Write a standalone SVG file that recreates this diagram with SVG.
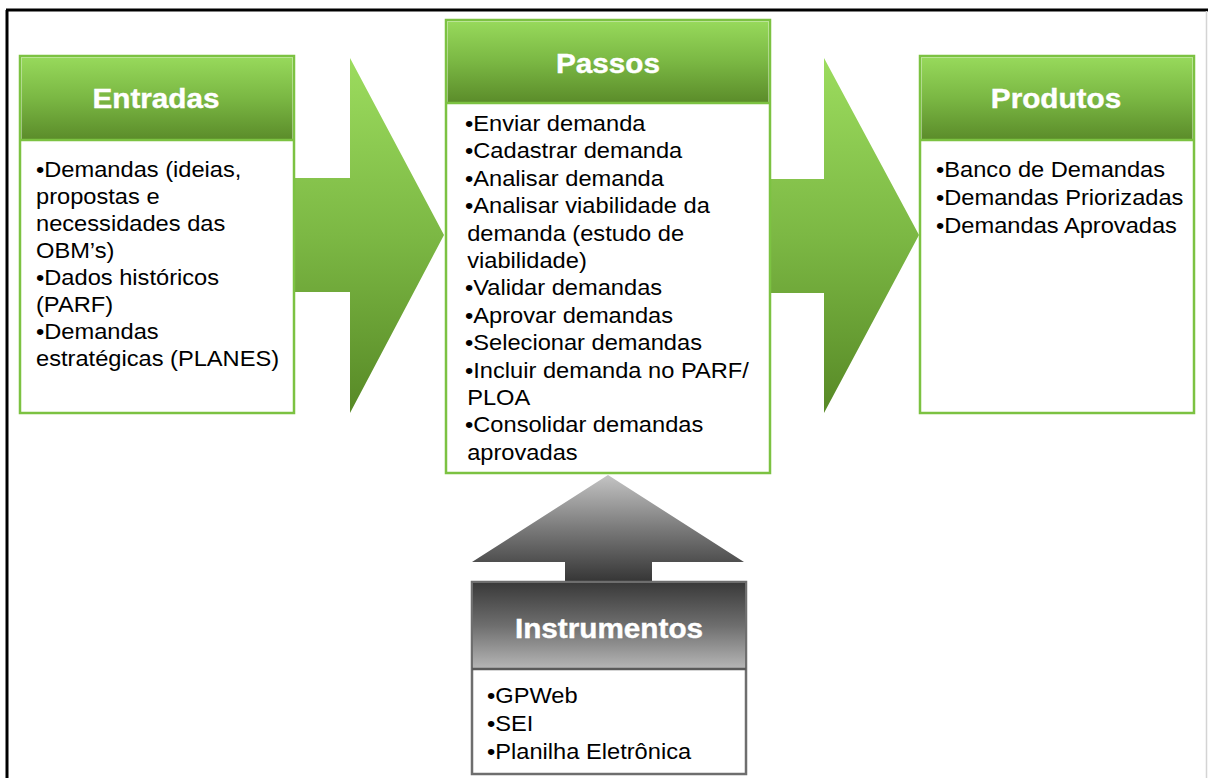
<svg xmlns="http://www.w3.org/2000/svg" width="1208" height="778" viewBox="0 0 1208 778">
<defs>
<linearGradient id="gHead" x1="0" y1="0" x2="0" y2="1">
<stop offset="0" stop-color="#97d95b"/>
<stop offset="0.5" stop-color="#7ab743"/>
<stop offset="1" stop-color="#5b8c2a"/>
</linearGradient>
<linearGradient id="gArrow" x1="0" y1="0" x2="0" y2="1">
<stop offset="0" stop-color="#9cdc5e"/>
<stop offset="0.5" stop-color="#7cb844"/>
<stop offset="1" stop-color="#578926"/>
</linearGradient>
<linearGradient id="gGrayHead" x1="0" y1="0" x2="0" y2="1">
<stop offset="0" stop-color="#3a3a3a"/>
<stop offset="0.5" stop-color="#6e6e6e"/>
<stop offset="1" stop-color="#b5b5b5"/>
</linearGradient>
<linearGradient id="gGrayArrow" x1="0" y1="0" x2="0" y2="1">
<stop offset="0" stop-color="#c4c4c4"/>
<stop offset="0.5" stop-color="#7a7a7a"/>
<stop offset="1" stop-color="#353535"/>
</linearGradient>
</defs>
<style>
.body{font-family:"Liberation Sans",Arial,sans-serif;font-size:21.5px;fill:#000}
.head{font-family:"Liberation Sans",Arial,sans-serif;font-size:27px;font-weight:bold;fill:#fff;text-anchor:middle;stroke:#fff;stroke-width:0.4}
.gbox{fill:#fff;stroke:#7cc242;stroke-width:2.5}
.gsep{stroke:#7cc242;stroke-width:2.5}
.kbox{fill:#fff;stroke:#6e6e6e;stroke-width:2.5}
.ksep{stroke:#5a5a5a;stroke-width:2.5}
</style>
<rect width="1208" height="778" fill="#fff"/>
<g id="frame">
<line x1="6" y1="10" x2="1208" y2="10" stroke="#000" stroke-width="3"/>
<line x1="7" y1="10" x2="7" y2="778" stroke="#000" stroke-width="3"/>
<line x1="1206.5" y1="11" x2="1206.5" y2="778" stroke="#d4d4d4" stroke-width="1.5"/>
</g>
<g id="connectors">
<polygon points="293,178 350,178 350,58 444,235 350,413 350,292 293,292" fill="url(#gArrow)"/>
<polygon points="770,179 824,179 824,58 919,235 824,413 824,293 770,293" fill="url(#gArrow)"/>
<polygon points="608,475 744,562 652,562 652,582 565,582 565,562 472,562" fill="url(#gGrayArrow)"/>
</g>
<g id="entradas">
<rect class="gbox" x="20" y="56" width="274" height="357"/>
<rect x="21.5" y="57.5" width="271" height="82" fill="url(#gHead)"/>
<line class="gsep" x1="20" y1="140" x2="294" y2="140"/>
<text class="head" transform="translate(156,0) scale(1.1,1)" x="0" y="108">Entradas</text>
<g transform="translate(36,0) scale(1.1,1)">
<text class="body"><tspan x="0" y="177">•Demandas (ideias,</tspan><tspan x="0" y="204">propostas e</tspan><tspan x="0" y="231">necessidades das</tspan><tspan x="0" y="258">OBM’s)</tspan><tspan x="0" y="285">•Dados históricos</tspan><tspan x="0" y="312">(PARF)</tspan><tspan x="0" y="339">•Demandas</tspan><tspan x="0" y="366">estratégicas (PLANES)</tspan></text>
</g>
</g>
<g id="passos">
<rect class="gbox" x="446" y="20" width="324" height="453"/>
<rect x="447.5" y="21.5" width="321" height="81" fill="url(#gHead)"/>
<line class="gsep" x1="446" y1="103" x2="770" y2="103"/>
<text class="head" transform="translate(608,0) scale(1.1,1)" x="0" y="73">Passos</text>
<g transform="translate(465,0) scale(1.1,1)">
<text class="body"><tspan x="0" y="131">•Enviar demanda</tspan><tspan x="0" y="158.4">•Cadastrar demanda</tspan><tspan x="0" y="185.8">•Analisar demanda</tspan><tspan x="0" y="213.2">•Analisar viabilidade da</tspan><tspan x="2" y="240.6">demanda (estudo de</tspan><tspan x="2" y="268">viabilidade)</tspan><tspan x="0" y="295.4">•Validar demandas</tspan><tspan x="0" y="322.8">•Aprovar demandas</tspan><tspan x="0" y="350.2">•Selecionar demandas</tspan><tspan x="0" y="377.6">•Incluir demanda no PARF/</tspan><tspan x="2" y="405">PLOA</tspan><tspan x="0" y="432.4">•Consolidar demandas</tspan><tspan x="2" y="459.8">aprovadas</tspan></text>
</g>
</g>
<g id="produtos">
<rect class="gbox" x="920" y="56" width="274" height="357"/>
<rect x="921.5" y="57.5" width="271" height="82" fill="url(#gHead)"/>
<line class="gsep" x1="920" y1="140" x2="1194" y2="140"/>
<text class="head" transform="translate(1056,0) scale(1.1,1)" x="0" y="108">Produtos</text>
<g transform="translate(936,0) scale(1.1,1)">
<text class="body"><tspan x="0" y="177">•Banco de Demandas</tspan><tspan x="0" y="205">•Demandas Priorizadas</tspan><tspan x="0" y="233">•Demandas Aprovadas</tspan></text>
</g>
</g>
<g id="instrumentos">
<rect class="kbox" x="472" y="582" width="274" height="192"/>
<rect x="473" y="583" width="272" height="85" fill="url(#gGrayHead)"/>
<line class="ksep" x1="472" y1="669" x2="746" y2="669"/>
<text class="head" transform="translate(609,0) scale(1.1,1)" x="0" y="638">Instrumentos</text>
<g transform="translate(487,0) scale(1.1,1)">
<text class="body"><tspan x="0" y="703">•GPWeb</tspan><tspan x="0" y="731">•SEI</tspan><tspan x="0" y="759">•Planilha Eletrônica</tspan></text>
</g>
</g>
</svg>
